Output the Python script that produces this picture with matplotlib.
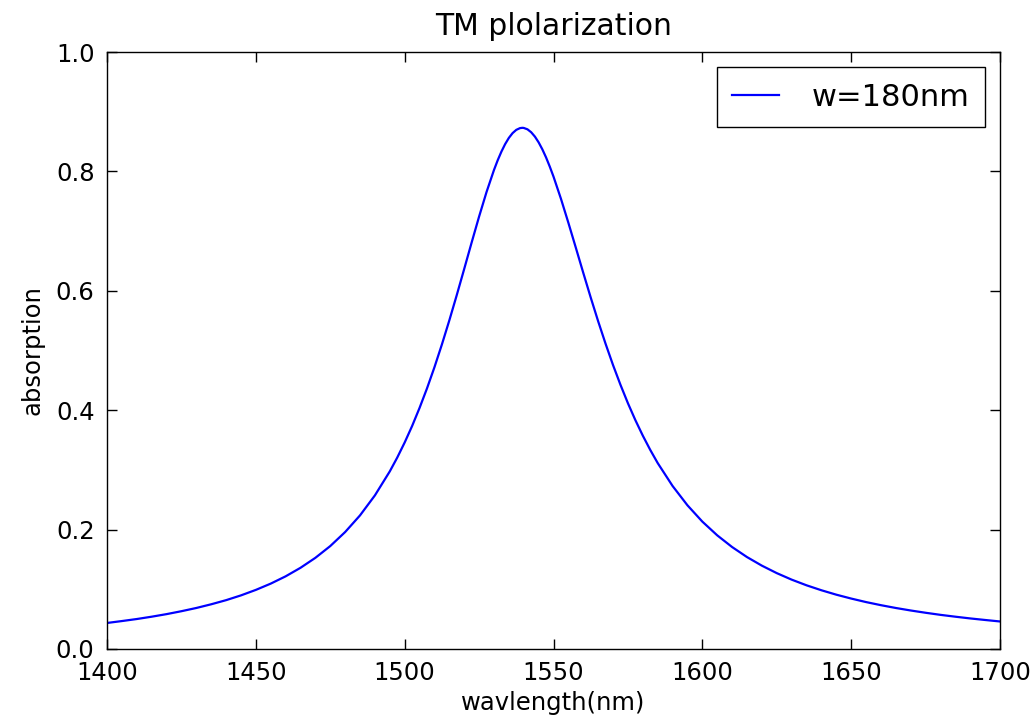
"""TM 偏振吸收谱（w=180nm）。"""

import matplotlib
matplotlib.use("Agg")
import matplotlib.pyplot as plt

# 波长 (nm) 与吸收率
wavelength = [
    1400, 1405, 1410, 1415, 1420, 1425, 1430, 1435, 1440, 1445, 1450, 1455,
    1460, 1465, 1470, 1475, 1480, 1485, 1490, 1495, 1497.5, 1500, 1502.5,
    1505, 1507.5, 1510, 1512.5, 1515, 1517.5, 1520, 1522.5, 1525, 1527.5,
    1530, 1531.25, 1532.5, 1533.75, 1535, 1536.25, 1537.5, 1538.75, 1539.5,
    1540, 1541.25, 1542.5, 1543.75, 1545, 1546.25, 1547.5, 1548.75, 1550,
    1552.5, 1555, 1557.5, 1560, 1562.5, 1565, 1567.5, 1570, 1572.5, 1575,
    1577.5, 1580, 1582.5, 1585, 1590, 1595, 1600, 1605, 1610, 1615, 1620,
    1625, 1630, 1635, 1640, 1645, 1650, 1655, 1660, 1665, 1670, 1675, 1680,
    1685, 1690, 1695, 1700,
]
absorption = [
    0.0436, 0.0468, 0.0502, 0.0541, 0.0584, 0.0633, 0.0687, 0.0749, 0.0818,
    0.0898, 0.0990, 0.1095, 0.1217, 0.1360, 0.1527, 0.1724, 0.1959, 0.2238,
    0.2573, 0.2975, 0.3206, 0.3459, 0.3735, 0.4038, 0.4365, 0.4719, 0.5100,
    0.5504, 0.5928, 0.6366, 0.6809, 0.7243, 0.7654, 0.8023, 0.8186, 0.8331,
    0.8457, 0.8561, 0.8641, 0.8696, 0.8725, 0.8730, 0.8728, 0.8705, 0.8656,
    0.8583, 0.8487, 0.8370, 0.8234, 0.8080, 0.7913, 0.7542, 0.7139, 0.6722,
    0.6301, 0.5888, 0.5490, 0.5112, 0.4756, 0.4425, 0.4117, 0.3834, 0.3574,
    0.3335, 0.3115, 0.2731, 0.2407, 0.2134, 0.1904, 0.1708, 0.1540, 0.1396,
    0.1271, 0.1162, 0.1067, 0.0984, 0.0910, 0.0845, 0.0786, 0.0734, 0.0687,
    0.0645, 0.0607, 0.0572, 0.0541, 0.0512, 0.0486, 0.0461,
]
x_ticks = [1400, 1450, 1500, 1550, 1600, 1650, 1700]
y_ticks = [0.0, 0.2, 0.4, 0.6, 0.8, 1.0]

plt.rcParams["font.family"] = ["DejaVu Sans"]

fig = plt.figure(figsize=(10.33, 7.26), dpi=100)
ax = fig.add_axes([107 / 1033, 77 / 726, 893 / 1033, 597 / 726])

ax.plot(wavelength, absorption, color="blue", linewidth=1.6, label="w=180nm")

ax.set_xlim(1400, 1700)
ax.set_ylim(0.0, 1.0)
ax.set_xticks(x_ticks)
ax.set_yticks(y_ticks)
ax.set_yticklabels([f"{v:.1f}" for v in y_ticks])
ax.tick_params(direction="in", top=True, right=True, length=7, width=1,
               labelsize=17.5, pad=9)
for sp in ax.spines.values():
    sp.set_linewidth(1.0)

ax.set_title("TM plolarization", fontsize=21.5, pad=12)
ax.set_xlabel("wavlength(nm)", fontsize=17.5, labelpad=4)
ax.set_ylabel("absorption", fontsize=17.5, labelpad=8)

leg = ax.legend(loc="upper right", fontsize=22, fancybox=False, framealpha=1,
                edgecolor="black", handlelength=1.55, handletextpad=1.05,
                borderaxespad=0.5, borderpad=0.5)
leg.get_frame().set_linewidth(1.0)

fig.savefig("out.png", dpi=100)
